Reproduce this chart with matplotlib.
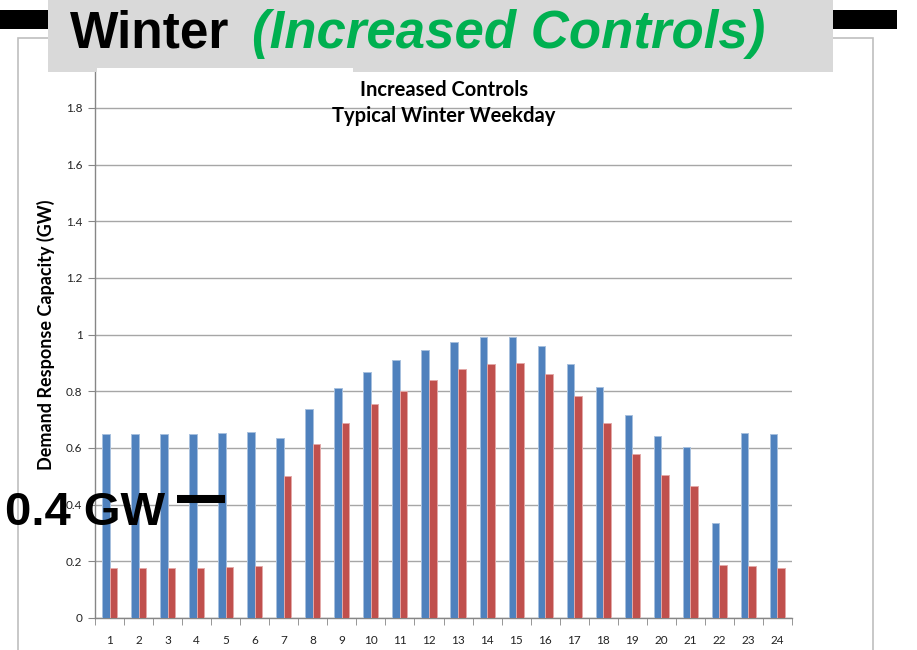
import matplotlib
matplotlib.use("Agg")
import matplotlib.pyplot as plt
from matplotlib.patches import Rectangle
from matplotlib.lines import Line2D
import numpy as np

hours = list(range(1, 25))
baseline = [0.649, 0.649, 0.649, 0.649, 0.653, 0.657, 0.634, 0.739, 0.812, 0.867,
            0.911, 0.947, 0.974, 0.993, 0.993, 0.961, 0.898, 0.814, 0.715, 0.642,
            0.602, 0.334, 0.653, 0.649]
increased = [0.175, 0.175, 0.175, 0.175, 0.180, 0.182, 0.501, 0.613, 0.688, 0.755,
             0.801, 0.841, 0.878, 0.898, 0.901, 0.862, 0.782, 0.688, 0.580, 0.504,
             0.465, 0.186, 0.182, 0.176]
yticks = [0, 0.2, 0.4, 0.6, 0.8, 1, 1.2, 1.4, 1.6, 1.8]
ytick_labels = ["0", "0.2", "0.4", "0.6", "0.8", "1", "1.2", "1.4", "1.6", "1.8"]

W, H = 917, 650
fig = plt.figure(figsize=(W / 100, H / 100), dpi=100)


def fx(px):
    return px / W


def fy(py):
    return 1 - py / H


# outer chart frame
fig.add_artist(Rectangle((fx(18), fy(660)), fx(873) - fx(18), fy(38) - fy(660),
                         transform=fig.transFigure, fill=False, edgecolor="#BFBFBF", lw=1.2, zorder=1))

ax = fig.add_axes([fx(95), fy(618), fx(792) - fx(95), fy(51.3) - fy(618)])
x = np.array(hours)
bw = 0.26
ax.bar(x - bw / 2, baseline, width=bw, color="#4F81BD", edgecolor="#A7C0DE", linewidth=0.7, zorder=3)
ax.bar(x + bw / 2, increased, width=bw, color="#C0504D", edgecolor="#E3A9A8", linewidth=0.7, zorder=3)
ax.set_xlim(0.5, 24.5)
ax.set_ylim(0, 2.0)
ax.set_yticks(yticks)
ax.set_yticklabels(ytick_labels)
ax.set_xticks(x)
ax.set_xticklabels([str(h) for h in hours])
ax.set_xticks(np.arange(0.5, 25, 1), minor=True)
ax.tick_params(axis="x", which="major", length=0, pad=12, labelsize=8.5, labelcolor="#222222")
ax.tick_params(axis="x", which="minor", length=5, color="#868686", direction="out")
ax.tick_params(axis="y", length=5, color="#868686", direction="out", labelsize=8.5,
               labelcolor="#222222", pad=4)
for lab in ax.get_xticklabels() + ax.get_yticklabels():
    lab.set_family("Lato")
ax.yaxis.grid(True, color="#A6A6A6", lw=1.0, zorder=0)
ax.set_axisbelow(True)
for s in ["top", "right"]:
    ax.spines[s].set_visible(False)
for s in ["left", "bottom"]:
    ax.spines[s].set_color("#868686")
    ax.spines[s].set_linewidth(1.0)
ax.set_ylabel("Demand Response Capacity (GW)", fontsize=13, fontweight="bold", family="Lato",
              labelpad=8)

# chart title lines
fig.text(fx(444), fy(96), "Increased Controls", ha="center", va="baseline",
         fontsize=14.5, fontweight="bold", family="Lato", color="black")
fig.text(fx(444), fy(122), "Typical Winter Weekday", ha="center", va="baseline",
         fontsize=14.5, fontweight="bold", family="Lato", color="black")

# slide header
fig.add_artist(Rectangle((0, fy(29)), fx(48), fy(10) - fy(29), transform=fig.transFigure,
                         color="black", lw=0, zorder=5))
fig.add_artist(Rectangle((fx(833), fy(29)), fx(897) - fx(833), fy(10) - fy(29),
                         transform=fig.transFigure, color="black", lw=0, zorder=5))
fig.add_artist(Rectangle((fx(48), fy(72)), fx(833) - fx(48), fy(0) - fy(72) + 0.01,
                         transform=fig.transFigure, color="#D9D9D9", lw=0, zorder=6))
fig.add_artist(Rectangle((fx(97), fy(76)), fx(353) - fx(97), fy(68) - fy(76),
                         transform=fig.transFigure, color="white", lw=0, zorder=7))
fig.text(fx(70), fy(48), "Winter", ha="left", va="baseline", fontsize=37, fontweight="bold",
         family="Liberation Sans", color="black", zorder=8)
fig.text(fx(252), fy(48), "(Increased Controls)", ha="left", va="baseline", fontsize=38,
         fontweight="bold", fontstyle="italic", family="Liberation Sans", color="#00B050", zorder=8)

# annotation
fig.text(fx(5), fy(525), "0.4 GW", ha="left", va="baseline", fontsize=34, fontweight="bold",
         family="Liberation Sans", color="black", zorder=9)
fig.add_artist(Line2D([fx(177), fx(225)], [fy(499), fy(499)], transform=fig.transFigure,
                      color="black", lw=5.8, solid_capstyle="butt", zorder=9))

fig.savefig("out.png", dpi=100)
